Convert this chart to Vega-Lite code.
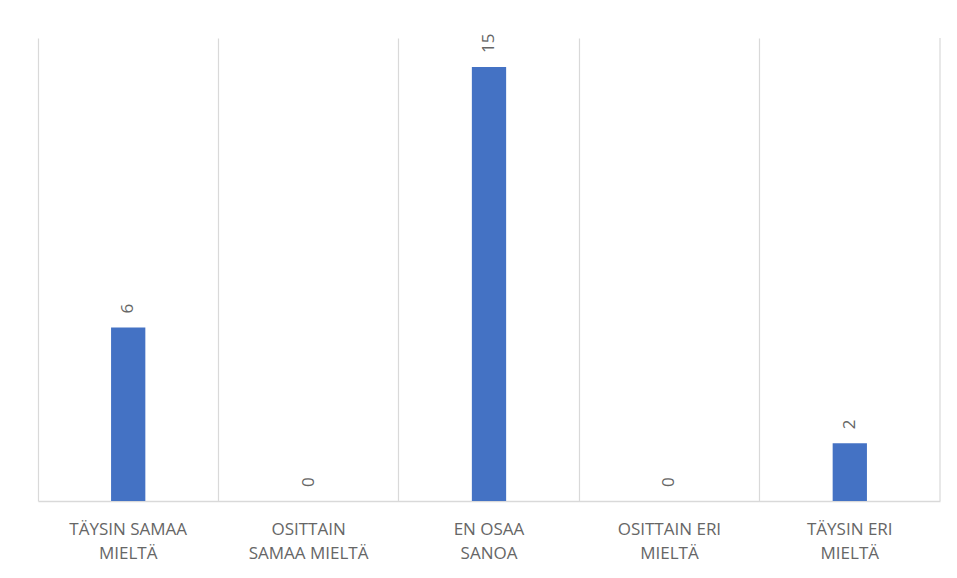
{
  "$schema": "https://vega.github.io/schema/vega-lite/v6.json",
  "autosize": "none",
  "width": 902,
  "height": 463,
  "padding": {"left": 38, "top": 38, "right": 17, "bottom": 77},
  "background": "white",
  "config": {"view": {"stroke": null}, "font": "Open Sans"},
  "data": {
    "values": [
      {"vastaus": "TÄYSIN SAMAA MIELTÄ", "lkm": 6},
      {"vastaus": "OSITTAIN SAMAA MIELTÄ", "lkm": 0},
      {"vastaus": "EN OSAA SANOA", "lkm": 15},
      {"vastaus": "OSITTAIN ERI MIELTÄ", "lkm": 0},
      {"vastaus": "TÄYSIN ERI MIELTÄ", "lkm": 2}
    ]
  },
  "encoding": {
    "x": {
      "field": "vastaus",
      "type": "nominal",
      "sort": null,
      "scale": {"paddingInner": 0, "paddingOuter": 0},
      "axis": {
        "title": null,
        "grid": true,
        "bandPosition": 0,
        "gridColor": "#d9d9d9",
        "gridWidth": 1.2,
        "domainColor": "#d9d9d9",
        "domainWidth": 1.5,
        "ticks": false,
        "labelAngle": 0,
        "labelFont": "Open Sans",
        "labelFontSize": 17,
        "labelColor": "#666666",
        "labelPadding": 20,
        "labelLineHeight": 24,
        "labelLimit": 200,
        "labelExpr": "datum.label == 'OSITTAIN SAMAA MIELTÄ' ? ['OSITTAIN', 'SAMAA MIELTÄ'] : [slice(datum.label, 0, lastindexof(datum.label, ' ')), slice(datum.label, lastindexof(datum.label, ' ') + 1)]"
      }
    },
    "y": {
      "field": "lkm",
      "type": "quantitative",
      "scale": {"domain": [0, 16], "nice": false},
      "axis": null
    }
  },
  "layer": [
    {
      "mark": {"type": "bar", "color": "#4472c4", "width": {"band": 0.19}}
    },
    {
      "mark": {
        "type": "text",
        "angle": 270,
        "align": "left",
        "baseline": "middle",
        "dx": 14,
        "fontSize": 17,
        "color": "#666666",
        "font": "Open Sans"
      },
      "encoding": {"text": {"field": "lkm", "type": "quantitative"}}
    },
    {
      "transform": [{"filter": "datum.vastaus == 'TÄYSIN ERI MIELTÄ'"}],
      "mark": {"type": "rule", "color": "#d9d9d9", "strokeWidth": 1.2},
      "encoding": {
        "x": {"field": "vastaus", "type": "nominal", "sort": null, "bandPosition": 1},
        "y": null
      }
    }
  ]
}
